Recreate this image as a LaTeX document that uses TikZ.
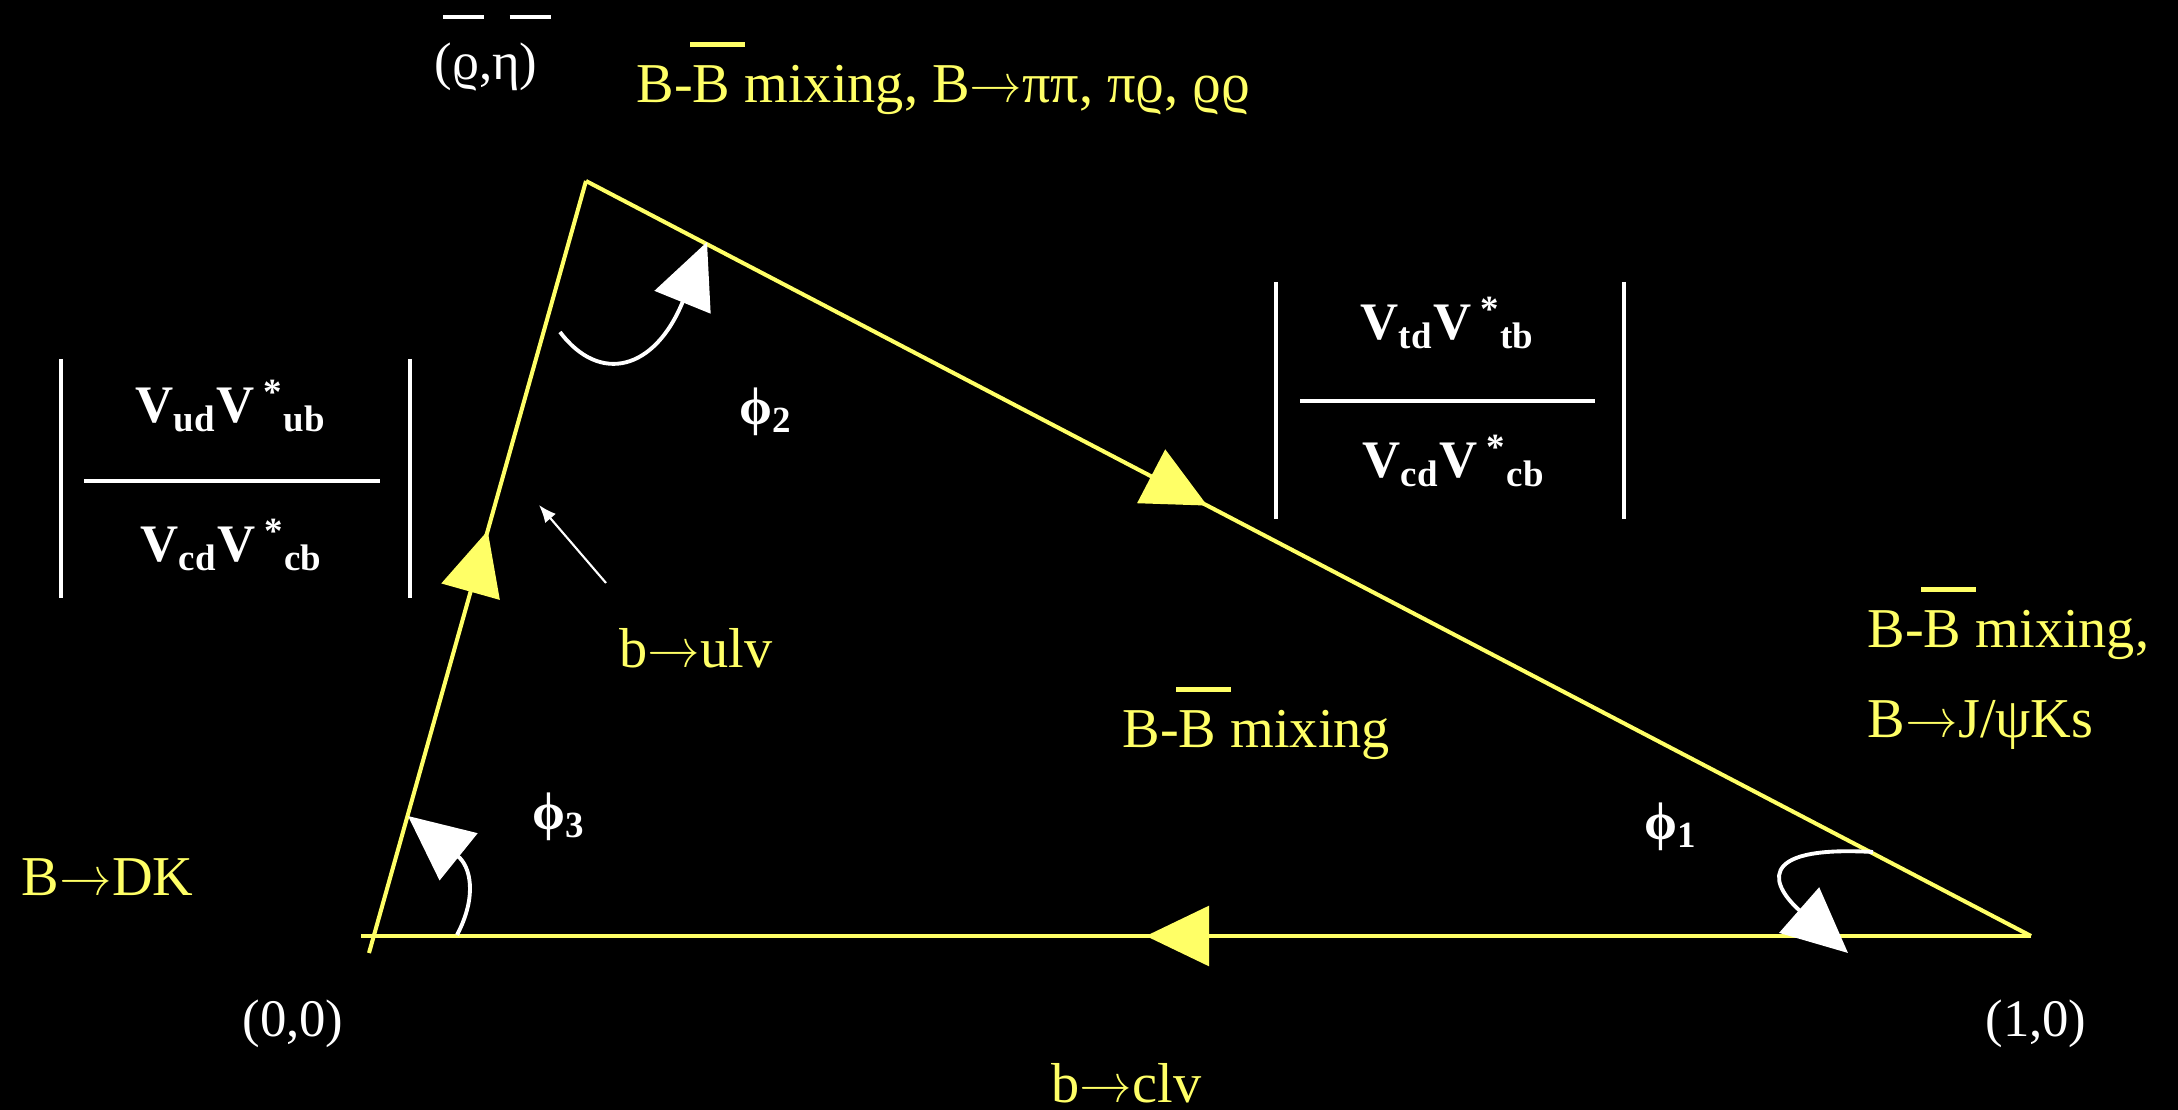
\documentclass[tikz,border=0pt]{standalone}
\usepackage{fontspec}
\setmainfont{Liberation Serif}
\newfontfamily\arrowfont{Latin Modern Roman}
\usetikzlibrary{arrows.meta,decorations.markings}
\definecolor{slideyellow}{RGB}{255,255,102}
\newcommand\hibar[4]{\makebox[0pt][l]{\hspace{#1}\raisebox{#3}{\rule{#2}{0.09em}}}#4}
\newcommand\toarrow{{\arrowfont →}}
\tikzset{
  yellowtext/.style={text=slideyellow, font=\fontsize{16}{19}\selectfont, anchor=base west, inner sep=0pt},
  whitetext/.style={text=white, font=\fontsize{15}{18}\selectfont, anchor=base, inner sep=0pt},
  ckmtext/.style={text=white, font=\fontsize{15}{18}\selectfont\bfseries, anchor=base, inner sep=0pt},
  side/.style={draw=slideyellow, color=slideyellow, line width=1.15pt},
  midarrow/.style={postaction={decorate}, decoration={markings, mark=at position #1 with {\arrow{Triangle[length=18pt,width=17pt]}}}},
  anglearrow/.style={draw=white, line width=1.1pt, -{Triangle[length=18.5pt,width=17pt]}},
  absbar/.style={draw=white, line width=1.2pt},
  pointer/.style={draw=white, line width=0.6pt, -{Latex[length=5pt,width=4pt]}}
}
\begin{document}
\begin{tikzpicture}[x=0.01cm, y=-0.01cm]
\useasboundingbox (0,0) rectangle (2178,1110);
\fill[black] (0,0) rectangle (2178,1110);
\coordinate (low) at (369,953);
\coordinate (top) at (586,181);
\coordinate (right) at (2031,936);
\coordinate (left) at (361,936);
\draw[side, midarrow=0.547] (low) -- (top);
\draw[side, midarrow=0.43] (top) -- (right);
\draw[side, midarrow=0.53] (right) -- (left);
\draw[anglearrow] (457,935) .. controls (478,895) and (470,866) .. (408,816);
\draw[anglearrow] (560,332) .. controls (600,385) and (655,370) .. (707,242);
\draw[anglearrow] (1873,852) .. controls (1750,845) and (1774,888) .. (1848,953);
\node[whitetext] at (486,80) (apex) {(\hibar{-0.17em}{0.78em}{1.15em}{ϱ},\hibar{0.33em}{0.78em}{1.15em}{η})};
\node[yellowtext] at (636,103) (mixtop) {B-\hibar{-0.05em}{0.98em}{1em}{B} mixing, B\toarrow ππ, πϱ, ϱϱ};
\node[ckmtext, anchor=center] at (766,412) (phi2) {ϕ\textsubscript{2}};
\node[ckmtext, anchor=center] at (559,817) (phi3) {ϕ\textsubscript{3}};
\node[ckmtext, anchor=center] at (1671,827) (phi1) {ϕ\textsubscript{1}};
\node[ckmtext] at (231,423) (leftnum) {V\textsubscript{ud}V\,\textsuperscript{*}\textsubscript{ub}};
\node[ckmtext] at (232,562) (leftden) {V\textsubscript{cd}V\,\textsuperscript{*}\textsubscript{cb}};
\draw[absbar] (61,359) -- (61,598);
\draw[absbar] (410,359) -- (410,598);
\draw[absbar] (84,481) -- (380,481);
\node[ckmtext] at (1448,340) (rightnum) {V\textsubscript{td}V\,\textsuperscript{*}\textsubscript{tb}};
\node[ckmtext] at (1454,478) (rightden) {V\textsubscript{cd}V\,\textsuperscript{*}\textsubscript{cb}};
\draw[absbar] (1276,282) -- (1276,519);
\draw[absbar] (1624,282) -- (1624,519);
\draw[absbar] (1300,401) -- (1595,401);
\node[yellowtext] at (619,668) (ulv) {b\toarrow ulv};
\coordinate (ulvtail) at (606,583);
\coordinate (ulvhead) at (539,505);
\draw[pointer] (ulvtail) -- (ulvhead);
\node[yellowtext] at (1122,748) (mixmid) {B-\hibar{-0.05em}{0.98em}{1em}{B} mixing};
\node[yellowtext] at (1867,648) (mixright) {B-\hibar{-0.05em}{0.98em}{1em}{B} mixing,};
\node[yellowtext] at (1867,738) (jpsi) {B\toarrow J/ψKs};
\node[yellowtext] at (21,896) (dk) {B\toarrow DK};
\node[whitetext] at (293,1037) (origin) {(0,0)};
\node[whitetext] at (2036,1037) (unit) {(1,0)};
\node[yellowtext] at (1051,1103) (clv) {b\toarrow clv};
\end{tikzpicture}
\end{document}
